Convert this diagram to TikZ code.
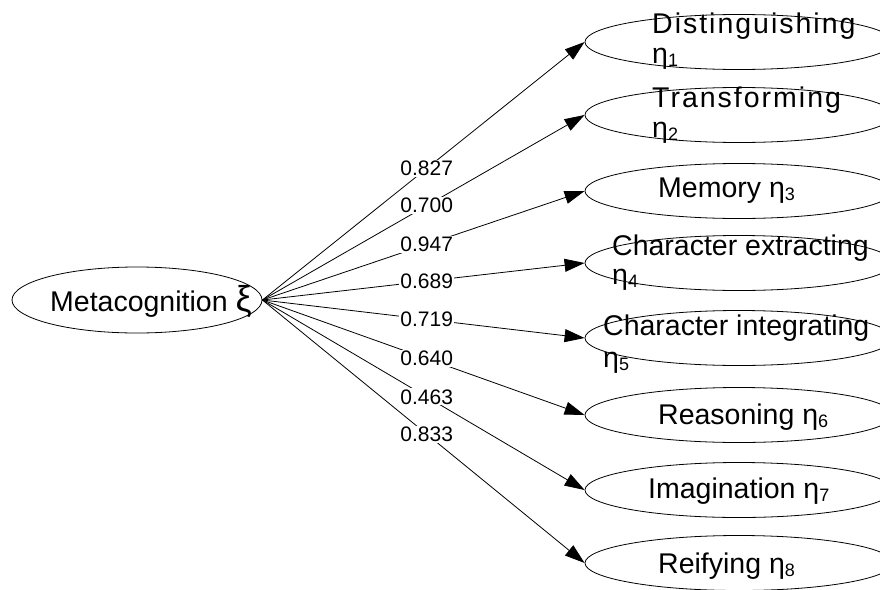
\documentclass[tikz,border=0pt]{standalone}
\usepackage{fontspec}
\setmainfont{Liberation Sans}
\newfontfamily\spacedfont[LetterSpace=7]{Liberation Sans}
\usetikzlibrary{shapes.geometric,arrows.meta}
\newcommand{\sbs}[1]{\raisebox{-3pt}{\fontsize{18}{18}\selectfont #1}}
\begin{document}
\begin{tikzpicture}[x=1pt,y=-1pt,
  lat/.style={draw,ellipse,line width=0.8pt,inner sep=0pt,minimum width=308pt,minimum height=55pt},
  txt/.style={anchor=base west,inner sep=0pt,font=\fontsize{28.5}{32}\selectfont},
  stxt/.style={anchor=base west,inner sep=0pt,font=\fontsize{28.5}{32}\selectfont\spacedfont},
  lab/.style={fill=white,inner sep=1pt,font=\fontsize{21}{24}\selectfont},
  arr/.style={line width=0.8pt,-{Triangle[length=20pt,width=13pt]}}]
\useasboundingbox (0,0) rectangle (880,589);
\node[draw,ellipse,line width=0.8pt,inner sep=0pt,minimum width=250pt,minimum height=66pt] (m) at (137,300) {};
\node[txt] (mt) at (50,311) {Metacognition {\fontsize{36}{36}\selectfont ξ}};
\node[lat] (e1) at (739,42) {};
\node[lat] (e2) at (739,115) {};
\node[lat] (e3) at (739,191) {};
\node[lat] (e4) at (739,263) {};
\node[lat] (e5) at (739,338) {};
\node[lat] (e6) at (739,415) {};
\node[lat] (e7) at (739,490) {};
\node[lat] (e8) at (739,563) {};
\node[stxt] (t1a) at (652,33) {Distinguishing};
\node[txt] (t1b) at (652,63) {η\sbs{1}};
\node[stxt] (t2a) at (652,107) {Transforming};
\node[txt] (t2b) at (652,137) {η\sbs{2}};
\node[txt] (t3) at (658,197) {Memory η\sbs{3}};
\node[txt] (t4a) at (612,255) {Character extracting};
\node[txt] (t4b) at (612,284) {η\sbs{4}};
\node[txt] (t5a) at (603,335) {Character integrating};
\node[txt] (t5b) at (603,367) {η\sbs{5}};
\node[txt] (t6) at (658,424) {Reasoning η\sbs{6}};
\node[txt] (t7) at (648,498) {Imagination η\sbs{7}};
\node[txt] (t8) at (658,573) {Reifying η\sbs{8}};
\draw[arr] (m.east) -- (e1.west) node[lab,pos=0.51] (l1) {0.827};
\draw[arr] (m.east) -- (e2.west) node[lab,pos=0.51] (l2) {0.700};
\draw[arr] (m.east) -- (e3.west) node[lab,pos=0.51] (l3) {0.947};
\draw[arr] (m.east) -- (e4.west) node[lab,pos=0.51] (l4) {0.689};
\draw[arr] (m.east) -- (e5.west) node[lab,pos=0.51] (l5) {0.719};
\draw[arr] (m.east) -- (e6.west) node[lab,pos=0.51] (l6) {0.640};
\draw[arr] (m.east) -- (e7.west) node[lab,pos=0.51] (l7) {0.463};
\draw[arr] (m.east) -- (e8.west) node[lab,pos=0.51] (l8) {0.833};
\end{tikzpicture}
\end{document}
